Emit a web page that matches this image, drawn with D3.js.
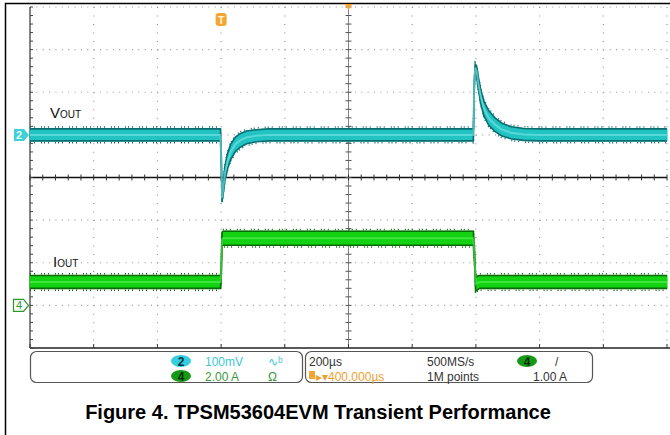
<!DOCTYPE html>
<html lang="en">
<head>
<meta charset="UTF-8">
<title>TPSM53604EVM Transient Performance</title>
<style>
  body { margin: 0; background: #fff; }
  svg text { font-family: "Liberation Sans", Arial, sans-serif; }
</style>
</head>
<body>
<script src="https://d3js.org/d3.v7.min.js"></script>
<div id="scope"></div>
<script>
// time base 200 us/div, 10 divisions, trigger at 600 us
var timeDomain = [0, 2000];

// channel 2: Vout, AC coupled, 100 mV/div (mV around the channel marker)
var voutTime = [0, 598, 600, 603, 606, 612, 620, 630, 645, 660, 680, 710, 750,
                1392, 1395, 1398, 1402, 1408, 1415, 1425, 1440, 1460, 1480, 1510, 1550, 1600, 2000];
var voutMid  = [0, 0, -40, -148, -130, -90, -62, -40, -22, -13, -6, -2, 0,
                0, 120, 158, 150, 120, 90, 62, 40, 24, 13, 5, 1, 0, 0];
var voutHalf = [14, 14, 12, 8, 12, 16, 18, 18, 17, 16, 15, 14, 14,
                14, 10, 8, 12, 14, 16, 17, 17, 16, 15, 14, 14, 14, 14];

// channel 4: Iout, 2.00 A/div
var ioutTime = [0, 598, 600, 603, 606, 1392, 1396, 1399, 1404, 1412, 2000];
var ioutMid  = [1.10, 1.10, 1.40, 3.10, 3.15, 3.15, 2.20, 1.00, 1.05, 1.10, 1.10];
var ioutHalf = [0.30, 0.30, 0.30, 0.33, 0.33, 0.33, 0.30, 0.33, 0.32, 0.30, 0.30];

var ch2Offset = 1;   // divisions above centre
var ch4Offset = -3;
var voltsPerDiv = 100;  // mV
var ampsPerDiv = 2;

var W = 670, H = 435;
var svg = d3.select("#scope").append("svg")
  .attr("width", W).attr("height", H);

// outer figure frame
svg.append("path")
  .attr("d", "M5.5," + (H + 2) + "V3.5H" + (W + 2))
  .attr("fill", "none").attr("stroke", "#000").attr("stroke-width", 1.5);

// screen scales
var x = d3.scaleLinear().domain(timeDomain).range([30, 667]);
var gx = d3.scaleLinear().domain([0, 10]).range([30, 667]);
var gy = d3.scaleLinear().domain([4, -4]).range([7, 348]);
var yV = d3.scaleLinear()
  .domain([(-4 - ch2Offset) * voltsPerDiv, (4 - ch2Offset) * voltsPerDiv]).range([348, 7]);
var yI = d3.scaleLinear()
  .domain([(-4 - ch4Offset) * ampsPerDiv, (4 - ch4Offset) * ampsPerDiv]).range([348, 7]);

var grid = svg.append("g");

// dotted graticule
d3.range(1, 11).filter(function(k) { return k != 5; }).forEach(function(k) {
  grid.append("line")
    .attr("x1", gx(k)).attr("x2", gx(k)).attr("y1", gy(4)).attr("y2", gy(-4))
    .attr("stroke", "#9a9a9a").attr("stroke-width", 1.2)
    .attr("stroke-dasharray", "1,7.52");
});
d3.range(-3, 5).filter(function(k) { return k != 0; }).forEach(function(k) {
  grid.append("line")
    .attr("x1", gx(0)).attr("x2", gx(10)).attr("y1", gy(k)).attr("y2", gy(k))
    .attr("stroke", "#9a9a9a").attr("stroke-width", 1.2)
    .attr("stroke-dasharray", "1,5.37");
});

// centre axes and frame edges with minor ticks
grid.append("line")
  .attr("x1", gx(0)).attr("x2", gx(10)).attr("y1", gy(0)).attr("y2", gy(0))
  .attr("stroke", "#111").attr("stroke-width", 1.3);
grid.append("line")
  .attr("x1", gx(5)).attr("x2", gx(5)).attr("y1", gy(4)).attr("y2", gy(-4))
  .attr("stroke", "#666").attr("stroke-width", 0.8);
grid.append("line")
  .attr("x1", gx(0)).attr("x2", gx(0)).attr("y1", gy(4)).attr("y2", gy(-4))
  .attr("stroke", "#333").attr("stroke-width", 1.2);
grid.append("line")
  .attr("x1", gx(0)).attr("x2", W).attr("y1", gy(-4)).attr("y2", gy(-4))
  .attr("stroke", "#222").attr("stroke-width", 1.3);

var minorX = d3.range(0, 50.01, 1).map(function(k) { return gx(k / 5); });
var minorY = d3.range(-20, 20.01, 1).map(function(k) { return gy(k / 5); });
grid.selectAll(".tx").data(minorX).enter().append("line")
  .attr("x1", function(d) { return d; }).attr("x2", function(d) { return d; })
  .attr("y1", gy(0) - 3).attr("y2", gy(0) + 3)
  .attr("stroke", "#333").attr("stroke-width", 1);
grid.selectAll(".ty").data(minorY).enter().append("line")
  .attr("x1", gx(5) - 3).attr("x2", gx(5) + 3)
  .attr("y1", function(d) { return d; }).attr("y2", function(d) { return d; })
  .attr("stroke", "#555").attr("stroke-width", 1);
grid.selectAll(".tl").data(minorY).enter().append("line")
  .attr("x1", gx(0)).attr("x2", gx(0) + 3)
  .attr("y1", function(d) { return d; }).attr("y2", function(d) { return d; })
  .attr("stroke", "#444").attr("stroke-width", 1);
grid.selectAll(".tb").data(d3.range(0, 11)).enter().append("line")
  .attr("x1", function(d) { return gx(d); }).attr("x2", function(d) { return gx(d); })
  .attr("y1", gy(-4) - 4).attr("y2", gy(-4))
  .attr("stroke", "#333").attr("stroke-width", 1);

// traces drawn as bands (noise envelope)
function drawBand(times, mids, halfs, yScale, fill, edge, light) {
  var pts = times.map(function(t, i) { return { t: t, m: mids[i], h: halfs[i] }; });
  var g = svg.append("g");
  g.append("path").datum(pts)
    .attr("d", d3.area()
      .x(function(d) { return x(d.t); })
      .y0(function(d) { return yScale(d.m - d.h); })
      .y1(function(d) { return yScale(d.m + d.h); }))
    .attr("fill", fill).attr("stroke", fill).attr("stroke-width", 1);
  [1, -1].forEach(function(s) {
    g.append("path").datum(pts)
      .attr("d", d3.line()
        .x(function(d) { return x(d.t); })
        .y(function(d) { return yScale(d.m + s * d.h); }))
      .attr("fill", "none").attr("stroke", edge).attr("stroke-width", 1.6);
    g.append("path").datum(pts)
      .attr("d", d3.line()
        .x(function(d) { return x(d.t); })
        .y(function(d) { return yScale(d.m + s * d.h) - s * 1.8; }))
      .attr("fill", "none").attr("stroke", edge).attr("stroke-width", 1.5)
      .attr("stroke-dasharray", "1,3,1,6,1,2");
  });
  g.append("path").datum(pts)
    .attr("d", d3.line()
      .x(function(d) { return x(d.t); })
      .y(function(d) { return yScale(d.m); }))
    .attr("fill", "none").attr("stroke", light).attr("stroke-width", 2).attr("opacity", 0.6);
}
drawBand(voutTime, voutMid, voutHalf, yV, "#22c3c3", "#0b6e70", "#7fe6e6");
drawBand(ioutTime, ioutMid, ioutHalf, yI, "#12d212", "#0a6a0a", "#5cf05c");

// trace labels
var lv = svg.append("text").attr("x", 50).attr("y", 118).attr("fill", "#111");
lv.append("tspan").attr("font-size", 15).text("V");
lv.append("tspan").attr("font-size", 10).text("OUT");
var li = svg.append("text").attr("x", 53).attr("y", 267).attr("fill", "#111");
li.append("tspan").attr("font-size", 15).text("I");
li.append("tspan").attr("font-size", 10).text("OUT");

// channel markers
var m2 = yV(0), m4 = yI(0);
svg.append("path")
  .attr("d", "M14," + (m2 - 6) + "H24L29," + m2 + "L24," + (m2 + 6) + "H14Z")
  .attr("fill", "#3fd0d6");
svg.append("text").attr("x", 19).attr("y", m2 + 4).attr("text-anchor", "middle")
  .attr("font-size", 11).attr("font-weight", "bold").attr("fill", "#e8ffff").text("2");
svg.append("path")
  .attr("d", "M13.5," + (m4 - 6) + "H23.5L28.5," + m4 + "L23.5," + (m4 + 6) + "H13.5Z")
  .attr("fill", "#fff").attr("stroke", "#2a9a2a").attr("stroke-width", 1.2);
svg.append("text").attr("x", 19).attr("y", m4 + 4).attr("text-anchor", "middle")
  .attr("font-size", 11).attr("fill", "#2a9a2a").text("4");

// trigger markers
var tx = x(600);
svg.append("rect").attr("x", tx - 5.5).attr("y", 13).attr("width", 11).attr("height", 13)
  .attr("rx", 3).attr("fill", "#f5a532");
svg.append("text").attr("x", tx).attr("y", 23.5).attr("text-anchor", "middle")
  .attr("font-size", 11).attr("font-weight", "bold").attr("fill", "#fff3d0").text("T");
svg.append("path").attr("d", "M" + (gx(5) - 4) + ",4H" + (gx(5) + 4) + "L" + gx(5) + ",10Z")
  .attr("fill", "#f5a532");

// readout boxes
var info = svg.append("g").attr("font-size", 12);
info.append("rect").attr("x", 30.5).attr("y", 351.5).attr("width", 272).attr("height", 31)
  .attr("rx", 6).attr("fill", "#fff").attr("stroke", "#555").attr("stroke-width", 1.2);
info.append("rect").attr("x", 305.5).attr("y", 351.5).attr("width", 287).attr("height", 31)
  .attr("rx", 6).attr("fill", "#fff").attr("stroke", "#555").attr("stroke-width", 1.2);

info.append("ellipse").attr("cx", 181).attr("cy", 361).attr("rx", 10).attr("ry", 6)
  .attr("fill", "#35d0e0");
info.append("text").attr("x", 181).attr("y", 365.5).attr("text-anchor", "middle")
  .attr("font-weight", "bold").attr("fill", "#0d3040").text("2");
info.append("ellipse").attr("cx", 181).attr("cy", 376).attr("rx", 10).attr("ry", 6)
  .attr("fill", "#169a16");
info.append("text").attr("x", 181).attr("y", 380.5).attr("text-anchor", "middle")
  .attr("font-weight", "bold").attr("fill", "#062a06").text("4");
info.append("text").attr("x", 205).attr("y", 365.5).attr("fill", "#3cc6d6").text("100mV");
info.append("text").attr("x", 268).attr("y", 365.5).attr("fill", "#3cc6d6").text("∿ᵇ");
info.append("text").attr("x", 205).attr("y", 380.5).attr("fill", "#3a9a3a").text("2.00 A");
info.append("text").attr("x", 268).attr("y", 380.5).attr("fill", "#3a9a3a").text("Ω");

info.append("text").attr("x", 309).attr("y", 365.5).attr("fill", "#333").text("200µs");
info.append("rect").attr("x", 309).attr("y", 371).attr("width", 6).attr("height", 8)
  .attr("fill", "#f5a532");
info.append("text").attr("x", 316).attr("y", 380.5).attr("fill", "#f0a030").text("▸▾400.000µs");
info.append("text").attr("x", 427).attr("y", 365.5).attr("fill", "#333").text("500MS/s");
info.append("text").attr("x", 427).attr("y", 380.5).attr("fill", "#333").text("1M points");
info.append("ellipse").attr("cx", 527).attr("cy", 361).attr("rx", 10).attr("ry", 6)
  .attr("fill", "#169a16");
info.append("text").attr("x", 527).attr("y", 365.5).attr("text-anchor", "middle")
  .attr("font-weight", "bold").attr("fill", "#062a06").text("4");
info.append("text").attr("x", 555).attr("y", 365.5).attr("fill", "#333").text("/");
info.append("text").attr("x", 567).attr("y", 380.5).attr("text-anchor", "end")
  .attr("fill", "#333").text("1.00 A");

// caption
svg.append("text").attr("x", 318).attr("y", 419).attr("text-anchor", "middle")
  .attr("font-size", 20).attr("font-weight", "bold").attr("fill", "#000")
  .text("Figure 4. TPSM53604EVM Transient Performance");
</script>
</body>
</html>
